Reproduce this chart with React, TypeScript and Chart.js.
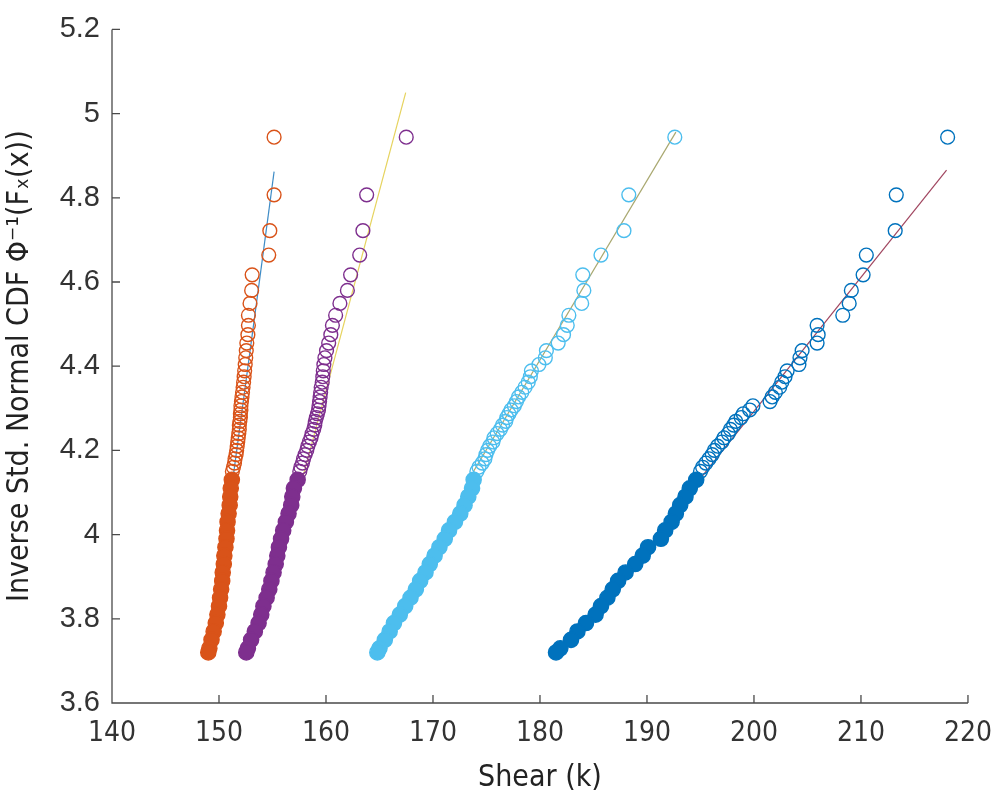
import React, { useEffect, useRef } from "react";
import { Chart, registerables } from "chart.js";

Chart.register(...registerables);

// Shared tail quantile levels (y = inverse std. normal CDF)
const Y_LEVELS = [
  4.944, 4.807, 4.722, 4.664, 4.617, 4.58, 4.549, 4.521, 4.497, 4.475,
  4.455, 4.437, 4.42, 4.404, 4.389, 4.375, 4.362, 4.35, 4.338, 4.327,
  4.316, 4.306, 4.296, 4.287, 4.278, 4.269, 4.26, 4.25, 4.24, 4.23,
  4.22, 4.21, 4.2, 4.19, 4.18, 4.17, 4.16, 4.15, 4.13, 4.11,
  4.09, 4.07, 4.05, 4.03, 4.01, 3.99, 3.97, 3.95, 3.93, 3.91,
  3.89, 3.87, 3.85, 3.83, 3.81, 3.79, 3.77, 3.75, 3.73, 3.72,
];

const ORANGE_X = [
  155.15, 155.15, 154.75, 154.65, 153.1, 153.05, 152.9, 152.75, 152.75, 152.7,
  152.6, 152.55, 152.5, 152.45, 152.4, 152.35, 152.3, 152.25, 152.2, 152.15,
  152.1, 152.05, 152.05, 152.0, 152.0, 151.95, 151.9, 151.9, 151.85, 151.8,
  151.75, 151.7, 151.65, 151.6, 151.5, 151.45, 151.35, 151.25, 151.2, 151.1,
  151.05, 151.0, 150.9, 150.8, 150.75, 150.7, 150.6, 150.5, 150.45, 150.35,
  150.3, 150.2, 150.1, 150.0, 149.85, 149.7, 149.5, 149.3, 149.1, 149.0,
];

const PURPLE_X = [
  167.5, 163.8, 163.45, 163.15, 162.3, 162.0, 161.3, 160.9, 160.6, 160.45,
  160.25, 160.05, 159.9, 159.8, 159.75, 159.7, 159.65, 159.55, 159.5, 159.45,
  159.4, 159.35, 159.3, 159.2, 159.1, 159.0, 158.95, 158.85, 158.7, 158.6,
  158.45, 158.3, 158.2, 158.05, 157.9, 157.8, 157.65, 157.55, 157.35, 157.0,
  156.85, 156.75, 156.5, 156.25, 156.0, 155.8, 155.6, 155.45, 155.3, 155.1,
  154.9, 154.7, 154.45, 154.15, 153.95, 153.7, 153.35, 153.0, 152.7, 152.55,
];

const LIGHTBLUE_X = [
  192.6, 188.3, 187.85, 185.7, 184.0, 184.1, 183.9, 182.7, 182.55, 182.2,
  181.7, 180.6, 180.5, 179.9, 179.2, 179.1, 178.9, 178.6, 178.3, 178.0,
  177.8, 177.6, 177.3, 177.1, 176.9, 176.8, 176.5, 176.3, 176.0, 175.7,
  175.6, 175.3, 175.1, 174.95, 174.85, 174.6, 174.3, 174.1, 173.8, 173.65,
  173.3, 172.95, 172.55, 172.05, 171.5, 171.1, 170.6, 170.15, 169.7, 169.3,
  168.8, 168.4, 167.9, 167.4, 166.9, 166.35, 165.95, 165.5, 165.0, 164.8,
];

const DARKBLUE_X = [
  218.1, 213.3, 213.2, 210.5, 210.2, 209.1, 208.9, 208.3, 205.9, 206.0,
  205.9, 204.5, 204.3, 204.2, 203.1, 202.9, 202.6, 202.4, 202.0, 201.7,
  201.5, 199.9, 199.6, 199.0, 198.8, 198.3, 198.1, 197.8, 197.6, 197.2,
  197.0, 196.6, 196.3, 196.1, 195.8, 195.5, 195.2, 195.0, 194.6, 194.0,
  193.6, 193.1, 192.7, 192.3, 191.7, 191.3, 190.1, 189.6, 188.9, 188.0,
  187.3, 186.8, 186.3, 185.7, 185.2, 184.3, 183.5, 182.9, 181.9, 181.5,
];

// Fitted lines (two end points each)
const FIT_ORANGE_X = [150.6, 155.15];
const FIT_ORANGE_Y = [4.0, 4.862];
const FIT_PURPLE_X = [155.35, 167.45];
const FIT_PURPLE_Y = [3.9, 5.05];
const FIT_LIGHTBLUE_X = [173.78, 192.7];
const FIT_LIGHTBLUE_Y = [4.15, 4.956];
const FIT_DARKBLUE_X = [190.8, 218.0];
const FIT_DARKBLUE_Y = [4.0, 4.866];

const X_TICKS = [140, 150, 160, 170, 180, 190, 200, 210, 220];
const Y_TICKS = [3.6, 3.8, 4.0, 4.2, 4.4, 4.6, 4.8, 5.0, 5.2];

const FILL_BELOW = 4.14;

const COLORS = {
  orange: "#D95319",
  purple: "#7E2F8E",
  lightblue: "#4DBEEE",
  darkblue: "#0072BD",
  fitOrange: "#3F8CC6",
  fitPurple: "#E6D35E",
  fitLightblue: "#A9A870",
  fitDarkblue: "#A0455F",
};

const NARROW = "'Liberation Sans Narrow', 'Arial Narrow', 'DejaVu Sans Condensed', 'Liberation Sans', Arial, sans-serif";
const REGULAR = "'Liberation Sans', Arial, Helvetica, sans-serif";

function scatterSet(label: string, xs: number[], color: string) {
  return {
    type: "scatter" as const,
    label,
    data: Y_LEVELS.map((y, i) => ({ x: xs[i], y })),
    showLine: false,
    order: 1,
    pointStyle: "circle",
    pointRadius: (ctx: any) => (ctx.raw && ctx.raw.y < FILL_BELOW ? 7.6 : 6.9),
    pointBorderWidth: 1.4,
    pointBorderColor: color,
    pointBackgroundColor: (ctx: any) =>
      ctx.raw && ctx.raw.y < FILL_BELOW ? color : "rgba(255,255,255,0)",
  };
}

function fitSet(label: string, xs: number[], ys: number[], color: string) {
  return {
    type: "scatter" as const,
    label,
    data: xs.map((x, i) => ({ x, y: ys[i] })),
    showLine: true,
    order: 2,
    borderColor: color,
    borderWidth: 1.2,
    pointRadius: 0,
    fill: false,
  };
}

const axesPlugin = {
  id: "matlabAxes",
  afterDraw(chart: any) {
    const { ctx, chartArea: a, scales } = chart;
    const x = scales.x;
    const y = scales.y;
    ctx.save();
    ctx.strokeStyle = "#4a4a4a";
    ctx.lineWidth = 1.3;
    ctx.beginPath();
    ctx.moveTo(a.left, a.top);
    ctx.lineTo(a.left, a.bottom);
    ctx.lineTo(a.right, a.bottom);
    X_TICKS.forEach((v) => {
      const px = x.getPixelForValue(v);
      ctx.moveTo(px, a.bottom);
      ctx.lineTo(px, a.bottom - 8);
    });
    Y_TICKS.forEach((v) => {
      const py = y.getPixelForValue(v);
      ctx.moveTo(a.left, py);
      ctx.lineTo(a.left + 8, py);
    });
    ctx.stroke();
    ctx.restore();
  },
};

export default function App() {
  const ref = useRef<HTMLCanvasElement | null>(null);

  useEffect(() => {
    if (!ref.current) return;
    const chart = new Chart(ref.current, {
      type: "scatter",
      data: {
        datasets: [
          scatterSet("Orange", ORANGE_X, COLORS.orange),
          scatterSet("Purple", PURPLE_X, COLORS.purple),
          scatterSet("Light blue", LIGHTBLUE_X, COLORS.lightblue),
          scatterSet("Dark blue", DARKBLUE_X, COLORS.darkblue),
          fitSet("Fit orange", FIT_ORANGE_X, FIT_ORANGE_Y, COLORS.fitOrange),
          fitSet("Fit purple", FIT_PURPLE_X, FIT_PURPLE_Y, COLORS.fitPurple),
          fitSet("Fit light blue", FIT_LIGHTBLUE_X, FIT_LIGHTBLUE_Y, COLORS.fitLightblue),
          fitSet("Fit dark blue", FIT_DARKBLUE_X, FIT_DARKBLUE_Y, COLORS.fitDarkblue),
        ] as any,
      },
      options: {
        animation: false,
        responsive: false,
        maintainAspectRatio: false,
        devicePixelRatio: 1,
        layout: { padding: { left: 0, right: 28, top: 25, bottom: 0 } },
        plugins: {
          legend: { display: false },
          tooltip: { enabled: false },
        },
        scales: {
          x: {
            type: "linear",
            min: 140,
            max: 220,
            afterBuildTicks: (s: any) => {
              s.ticks = X_TICKS.map((v) => ({ value: v }));
            },
            ticks: {
              color: "#333333",
              padding: 14,
              font: { family: NARROW, size: 28 },
              callback: (v: any) => String(v),
            },
            grid: { display: false, drawTicks: false },
            border: { display: false },
            title: {
              display: true,
              text: "Shear (k)",
              color: "#222222",
              font: { family: NARROW, size: 30 },
              padding: { top: 2, bottom: 2 },
            },
            afterFit: (s: any) => {
              s.height = 95;
            },
          },
          y: {
            type: "linear",
            min: 3.6,
            max: 5.2,
            afterBuildTicks: (s: any) => {
              s.ticks = Y_TICKS.map((v) => ({ value: v }));
            },
            ticks: {
              color: "#333333",
              padding: 12,
              font: { family: REGULAR, size: 29 },
              callback: (v: any) => String(Math.round(Number(v) * 10) / 10),
            },
            grid: { display: false, drawTicks: false },
            border: { display: false },
            title: {
              display: true,
              text: "Inverse Std. Normal CDF \u03A6\u207B\u00B9(F\u2093(x))",
              color: "#222222",
              font: { family: NARROW, size: 30 },
              padding: { top: 2, bottom: 0 },
            },
            afterFit: (s: any) => {
              s.width = 112;
            },
          },
        },
      },
      plugins: [axesPlugin],
    } as any);
    return () => chart.destroy();
  }, []);

  return (
    <div style={{ position: "absolute", left: 0, top: 0, width: 1006, height: 798, background: "#ffffff" }}>
      <canvas ref={ref} width={1006} height={798} style={{ display: "block" }} />
    </div>
  );
}
